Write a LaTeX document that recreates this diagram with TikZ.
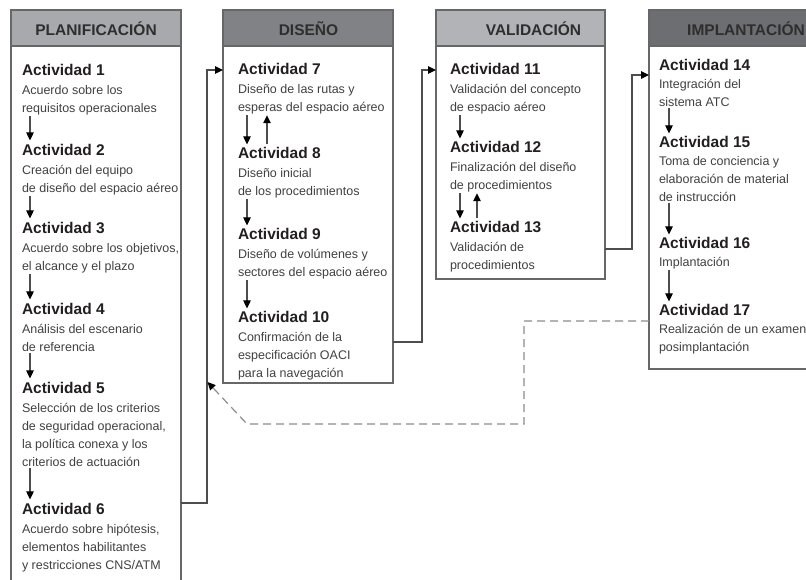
\documentclass[tikz,border=0pt]{standalone}
\usepackage{fontspec}
\setmainfont{Liberation Sans}
\usetikzlibrary{arrows.meta}
\definecolor{boxline}{HTML}{666769}
\definecolor{connline}{HTML}{4D4D4F}
\definecolor{hdrA}{HTML}{A7A9AC}
\definecolor{hdrB}{HTML}{808285}
\definecolor{hdrC}{HTML}{B1B3B6}
\definecolor{hdrD}{HTML}{6D6E71}
\definecolor{titletext}{HTML}{2E2E2F}
\definecolor{headtext}{HTML}{231F20}
\definecolor{bodytext}{HTML}{414042}
\definecolor{dashline}{HTML}{8A8C8E}
\newcommand\acthead[1]{{\fontsize{15.5}{18}\selectfont\bfseries\color{headtext}#1}}
\begin{document}
\begin{tikzpicture}[x=1pt,y=-1pt,
  colbox/.style={draw=boxline,line width=1.4pt,fill=white,anchor=north west,inner sep=0pt,outer sep=0pt},
  hdrbox/.style={draw=boxline,line width=1.4pt,anchor=north west,inner sep=0pt,outer sep=0pt,minimum height=36pt},
  hdrtext/.style={anchor=base,inner sep=0pt,text=titletext,font=\fontsize{15.5}{18}\selectfont\bfseries},
  act/.style={anchor=north west,align=left,inner sep=0pt,outer sep=0pt,text=bodytext,font=\fontsize{12.5}{18}\selectfont},
  arr/.style={draw=connline,line width=1.1pt,-{Triangle[width=7.5pt,length=8pt,color=black]}},
  conn/.style={draw=connline,line width=1.1pt,-{Triangle[width=7.5pt,length=8pt,color=black]}},
  dashconn/.style={draw=dashline,line width=1.2pt,dash pattern=on 8pt off 5pt,-{Triangle[width=7.5pt,length=8pt,color=black]}}]
\useasboundingbox (0,0) rectangle (806,579);
\clip (0,0) rectangle (806,579);

% column boxes
\node[colbox,minimum width=170pt,minimum height=600pt] (pbox) at (11,10) {};
\node[colbox,minimum width=170pt,minimum height=373pt] (dbox) at (223,10) {};
\node[colbox,minimum width=169pt,minimum height=269pt] (vbox) at (436,10) {};
\node[colbox,minimum width=190pt,minimum height=359pt] (ibox) at (649,10) {};

% headers
\node[hdrbox,fill=hdrA,minimum width=170pt] (phdr) at (11,10) {};
\node[hdrbox,fill=hdrB,minimum width=170pt] (dhdr) at (223,10) {};
\node[hdrbox,fill=hdrC,minimum width=169pt] (vhdr) at (436,10) {};
\node[hdrbox,fill=hdrD,minimum width=190pt] (ihdr) at (649,10) {};
\node[hdrtext] (ptitle) at (96,35.5) {PLANIFICACIÓN};
\node[hdrtext] (dtitle) at (308.5,35.5) {DISEÑO};
\node[hdrtext] (vtitle) at (533.5,35.5) {VALIDACIÓN};
\node[hdrtext,anchor=base west] (ititle) at (687,35.5) {IMPLANTACIÓN};

% PLANIFICACION activities
\node[act] (a1) at (22,64.4) {\acthead{Actividad 1}\\[1pt]Acuerdo sobre los\\requisitos operacionales};
\node[act] (a2) at (22,144.4) {\acthead{Actividad 2}\\[1pt]Creación del equipo\\de diseño del espacio aéreo};
\node[act] (a3) at (22,222.4) {\acthead{Actividad 3}\\[1pt]Acuerdo sobre los objetivos,\\el alcance y el plazo};
\node[act] (a4) at (22,303.4) {\acthead{Actividad 4}\\[1pt]Análisis del escenario\\de referencia};
\node[act] (a5) at (22,382.4) {\acthead{Actividad 5}\\[1pt]Selección de los criterios\\de seguridad operacional,\\la política conexa y los\\criterios de actuación};
\node[act] (a6) at (22,503.4) {\acthead{Actividad 6}\\[1pt]Acuerdo sobre hipótesis,\\elementos habilitantes\\y restricciones CNS/ATM};

% DISENO activities
\node[act] (a7) at (238,63.4) {\acthead{Actividad 7}\\[1pt]Diseño de las rutas y\\esperas del espacio aéreo};
\node[act] (a8) at (238,147.4) {\acthead{Actividad 8}\\[1pt]Diseño inicial\\de los procedimientos};
\node[act] (a9) at (238,228.4) {\acthead{Actividad 9}\\[1pt]Diseño de volúmenes y\\sectores del espacio aéreo};
\node[act] (a10) at (238,311.4) {\acthead{Actividad 10}\\[1pt]Confirmación de la\\especificación OACI\\para la navegación};

% VALIDACION activities
\node[act] (a11) at (450,63.4) {\acthead{Actividad 11}\\[1pt]Validación del concepto\\de espacio aéreo};
\node[act] (a12) at (450,141.4) {\acthead{Actividad 12}\\[1pt]Finalización del diseño\\de procedimientos};
\node[act] (a13) at (450,221.4) {\acthead{Actividad 13}\\[1pt]Validación de\\procedimientos};

% IMPLANTACION activities
\node[act] (a14) at (659,59.4) {\acthead{Actividad 14}\\Integración del\\sistema ATC};
\node[act] (a15) at (659,136.4) {\acthead{Actividad 15}\\Toma de conciencia y\\elaboración de material\\de instrucción};
\node[act] (a16) at (659,237.4) {\acthead{Actividad 16}\\Implantación};
\node[act] (a17) at (659,304.4) {\acthead{Actividad 17}\\Realización de un examen\\posimplantación};

% arrows inside columns
\draw[arr] ([xshift=8pt,yshift=-1pt]a1.south west) -- ([xshift=8pt,yshift=4pt]a2.north west);
\draw[arr] ([xshift=8pt,yshift=-1pt]a2.south west) -- ([xshift=8pt,yshift=4pt]a3.north west);
\draw[arr] ([xshift=8pt,yshift=-1pt]a3.south west) -- ([xshift=8pt,yshift=4pt]a4.north west);
\draw[arr] ([xshift=8pt,yshift=-1pt]a4.south west) -- ([xshift=8pt,yshift=4pt]a5.north west);
\draw[arr] ([xshift=8pt,yshift=-1pt]a5.south west) -- ([xshift=8pt,yshift=4pt]a6.north west);

\draw[arr] ([xshift=9pt,yshift=-1pt]a7.south west) -- ([xshift=9pt,yshift=3pt]a8.north west);
\draw[arr] ([xshift=29pt,yshift=3pt]a8.north west) -- ([xshift=29pt,yshift=-1pt]a7.south west);
\draw[arr] ([xshift=9pt,yshift=-1pt]a8.south west) -- ([xshift=9pt,yshift=3pt]a9.north west);
\draw[arr] ([xshift=9pt,yshift=-1pt]a9.south west) -- ([xshift=9pt,yshift=3pt]a10.north west);

\draw[arr] ([xshift=10pt,yshift=-1pt]a11.south west) -- ([xshift=10pt,yshift=3pt]a12.north west);
\draw[arr] ([xshift=10pt,yshift=-1pt]a12.south west) -- ([xshift=10pt,yshift=3pt]a13.north west);
\draw[arr] ([xshift=27pt,yshift=3pt]a13.north west) -- ([xshift=27pt,yshift=-1pt]a12.south west);

\draw[arr] ([xshift=10pt,yshift=-1pt]a14.south west) -- ([xshift=10pt,yshift=3pt]a15.north west);
\draw[arr] ([xshift=10pt,yshift=-1pt]a15.south west) -- ([xshift=10pt,yshift=3pt]a16.north west);
\draw[arr] ([xshift=10pt,yshift=-1pt]a16.south west) -- ([xshift=10pt,yshift=3pt]a17.north west);

% connectors between columns
\draw[conn] (pbox.east |- 0,503) -| (207,70) -- (dbox.west |- 0,70);
\draw[conn] (dbox.east |- 0,342) -| (422,70) -- (vbox.west |- 0,70);
\draw[conn] (vbox.east |- 0,249) -| (632,75) -- (ibox.west |- 0,75);
\draw[dashconn] (ibox.west |- 0,321) -- (524,321) -- (524,424) -- (247,424) -- (207.5,382);
\end{tikzpicture}
\end{document}
